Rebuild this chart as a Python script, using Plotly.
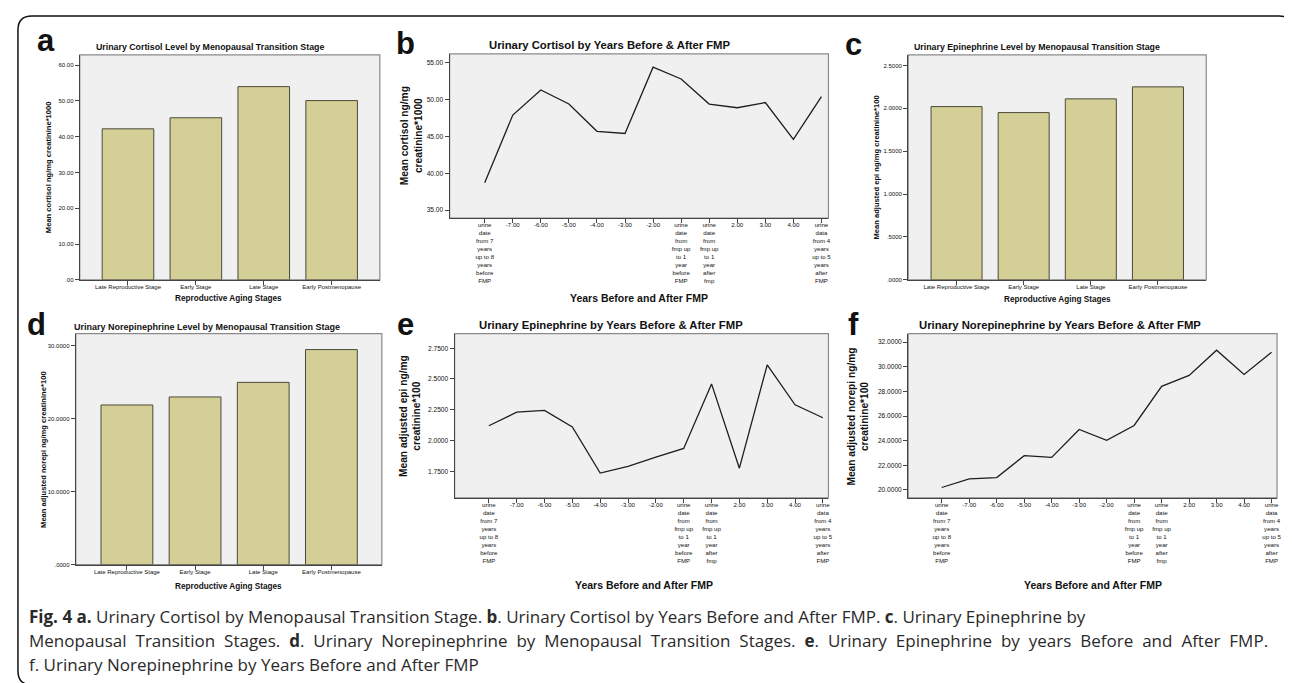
import plotly.graph_objects as go

W, H = 1292, 683

# ---------------- data ----------------
stages = ["Late Reproductive Stage", "Early Stage", "Late Stage", "Early Postmenopause"]
cortisol_stage = [42.2, 45.3, 54.0, 50.1]
epi_stage = [2.02, 1.95, 2.11, 2.25]
norepi_stage = [21.9, 23.0, 25.0, 29.5]

year_labels = [
    "urine<br>date<br>from 7<br>years<br>up to 8<br>years<br>before<br>FMP",
    "-7.00", "-6.00", "-5.00", "-4.00", "-3.00", "-2.00",
    "urine<br>date<br>from<br>fmp up<br>to 1<br>year<br>before<br>FMP",
    "urine<br>date<br>from<br>fmp up<br>to 1<br>year<br>after<br>fmp",
    "2.00", "3.00", "4.00",
    "urine<br>data<br>from 4<br>years<br>up to 5<br>years<br>after<br>FMP",
]
cortisol_years = [38.7, 47.9, 51.3, 49.4, 45.7, 45.4, 54.4, 52.8, 49.4, 48.9, 49.6, 44.6, 50.4]
epi_years = [2.12, 2.23, 2.245, 2.11, 1.735, 1.79, 1.865, 1.935, 2.46, 1.775, 2.615, 2.29, 2.185]
norepi_years = [20.19, 20.89, 21.0, 22.78, 22.64, 24.91, 24.02, 25.23, 28.41, 29.30, 31.35, 29.38, 31.19]

a_yticks = [0, 10, 20, 30, 40, 50, 60]
b_yticks = [35, 40, 45, 50, 55]
c_yticks = [0, 0.5, 1.0, 1.5, 2.0, 2.5]
d_yticks = [0, 10, 20, 30]
e_yticks = [1.75, 2.0, 2.25, 2.5, 2.75]
f_yticks = [20, 22, 24, 26, 28, 30, 32]


def spss(v, d):
    s = f"{v:.{d}f}"
    if s.startswith("0"):
        s = s[1:]
    return s


def px(x):
    return x / W


def py(y):
    return 1 - y / H


FONT = "Liberation Sans, Arial, sans-serif"
BAR_COLOR = "#D4CE97"
BG = "#F0F0F0"

fig = go.Figure()

panels = {
    "a": dict(n="", xd=(72, 373), yd=(47, 273), xr=[-0.71, 3.71], yr=[0, 62.9], yt=a_yticks, dec=2),
    "b": dict(n="2", xd=(443, 823), yd=(46, 211), xr=[-1.25, 12.25], yr=[33.92, 56.22], yt=b_yticks, dec=2),
    "c": dict(n="3", xd=(903, 1202), yd=(47, 273), xr=[-0.72, 3.72], yr=[0, 2.624], yt=c_yticks, dec=4),
    "d": dict(n="4", xd=(68, 375), yd=(327, 559), xr=[-0.75, 3.74], yr=[0, 31.7], yt=d_yticks, dec=4),
    "e": dict(n="5", xd=(448, 823), yd=(327, 492), xr=[-1.23, 12.2], yr=[1.534, 2.869], yt=e_yticks, dec=4),
    "f": dict(n="6", xd=(903, 1273), yd=(327, 492), xr=[-1.22, 12.2], yr=[19.35, 32.70], yt=f_yticks, dec=4),
}

bar_series = {"a": cortisol_stage, "c": epi_stage, "d": norepi_stage}
line_series = {"b": cortisol_years, "e": epi_years, "f": norepi_years}

for key, vals in bar_series.items():
    n = panels[key]["n"]
    fig.add_trace(go.Bar(
        x=stages, y=vals, width=0.76,
        marker=dict(color=BAR_COLOR, line=dict(color="#4a4a3a", width=1)),
        xaxis="x" + n, yaxis="y" + n, showlegend=False,
    ))

for key, vals in line_series.items():
    n = panels[key]["n"]
    fig.add_trace(go.Scatter(
        x=year_labels, y=vals, mode="lines",
        line=dict(color="#1e1e1e", width=1.3),
        xaxis="x" + n, yaxis="y" + n, showlegend=False,
    ))

layout = dict(
    width=W, height=H,
    margin=dict(l=0, r=0, t=0, b=0),
    paper_bgcolor="white",
    plot_bgcolor=BG,
    font=dict(family=FONT, color="#222"),
    showlegend=False,
)

shapes = []
for key, p in panels.items():
    n = p["n"]
    xa = "xaxis" + n
    ya = "yaxis" + n
    line_panel = key in ("b", "e", "f")
    layout[xa] = dict(
        domain=[px(p["xd"][0]), px(p["xd"][1])],
        anchor="y" + n, range=p["xr"], type="category",
        showline=True, linecolor="#444", linewidth=1.2,
        ticks="outside", ticklen=4, tickcolor="#444", tickwidth=1,
        showgrid=False, zeroline=False, tickangle=0,
        ticklabelstandoff=-3,
        tickfont=dict(size=6.1 if line_panel else 6, color="#111"),
        fixedrange=True,
    )
    layout[ya] = dict(
        domain=[py(p["yd"][1]), py(p["yd"][0])],
        anchor="x" + n, range=p["yr"],
        tickvals=p["yt"], ticktext=[spss(v, p["dec"]) for v in p["yt"]],
        showline=True, linecolor="#444", linewidth=1.2,
        ticks="outside", ticklen=4, tickcolor="#444", tickwidth=1,
        showgrid=False, zeroline=False,
        tickfont=dict(size=6.6 if line_panel else 6, color="#111"),
        fixedrange=True,
    )
    shapes.append(dict(
        type="rect", xref=("x" + n) + " domain", yref=("y" + n) + " domain",
        x0=0, x1=1, y0=0, y1=1, line=dict(color="#8a8a8a", width=1.2),
        layer="below",
    ))

# outer rounded frame
x0, x1, y0, y1, r = 10, 1289, 8, 680, 14
path = (f"M {px(x0 + r)},{py(y0)} L {px(x1 - r)},{py(y0)} "
        f"Q {px(x1)},{py(y0)} {px(x1)},{py(y0 + r)} "
        f"L {px(x1)},{py(y1 - r)} Q {px(x1)},{py(y1)} {px(x1 - r)},{py(y1)} "
        f"L {px(x0 + r)},{py(y1)} Q {px(x0)},{py(y1)} {px(x0)},{py(y1 - r)} "
        f"L {px(x0)},{py(y0 + r)} Q {px(x0)},{py(y0)} {px(x0 + r)},{py(y0)} Z")
shapes.append(dict(type="path", xref="paper", yref="paper", path=path,
                   line=dict(color="#111", width=1.5)))
layout["shapes"] = shapes

ann = []


def text(x, y, s, size, bold=True, angle=0, xanchor="center", family=FONT, color="#111"):
    ann.append(dict(
        x=px(x), y=py(y), xref="paper", yref="paper",
        text=f"<b>{s}</b>" if bold else s, showarrow=False,
        font=dict(size=size, family=family, color=color),
        textangle=angle, xanchor=xanchor, yanchor="middle",
    ))


# panel letters
for letter, (lx, ly) in {"a": (38, 33), "b": (399, 36), "c": (848, 37),
                          "d": (29, 318), "e": (399, 318), "f": (848, 318)}.items():
    text(lx, ly, letter, 31)

# chart titles
text(203, 39, "Urinary Cortisol Level by Menopausal Transition Stage", 8.8)
text(604, 37, "Urinary Cortisol by Years Before &amp; After FMP", 11.3)
text(1032, 39, "Urinary Epinephrine Level by Menopausal Transition Stage", 8.8)
text(200, 320, "Urinary Norepinephrine Level by Menopausal Transition Stage", 9.0)
text(605, 318, "Urinary Epinephrine by Years Before &amp; After FMP", 11.3)
text(1055, 318, "Urinary Norepinephrine by Years Before &amp; After FMP", 11.3)

# x-axis titles
text(221, 292, "Reproductive Aging Stages", 8.2)
text(1053, 293, "Reproductive Aging Stages", 8.2)
text(221, 581, "Reproductive Aging Stages", 8.2)
text(633, 291, "Years Before and After FMP", 10.5)
text(638, 580, "Years Before and After FMP", 10.5)
text(1088, 580, "Years Before and After FMP", 10.5)

# y-axis titles
text(40, 160, "Mean cortisol ng/mg creatinine*1000", 7.6, angle=-90)
text(871, 160, "Mean adjusted epi ng/mg creatinine*100", 7.6, angle=-90)
text(35, 443, "Mean adjusted norepi ng/mg creatinine*100", 7.6, angle=-90)
text(405, 128, "Mean cortisol ng/mg<br>creatinine*1000", 10.2, angle=-90)
text(403, 410, "Mean adjusted epi ng/mg<br>creatinine*100", 10.2, angle=-90)
text(853, 410, "Mean adjusted norepi ng/mg<br>creatinine*100", 10.2, angle=-90)

# caption (line 2 is justified in the original: widen its word gaps with thin + hair spaces)
CAP = "Open Sans, Noto Sans, sans-serif"
line2 = ("Menopausal Transition Stages. <b>d</b>. Urinary Norepinephrine by Menopausal Transition Stages. "
         "<b>e</b>. Urinary Epinephrine by years Before and After FMP.").replace(" ", " \u2009\u200a")
cap_lines = [
    "<b>Fig. 4 a.</b> Urinary Cortisol by Menopausal Transition Stage. <b>b</b>. Urinary Cortisol by Years Before and After FMP. <b>c</b>. Urinary Epinephrine by",
    line2,
    "f. Urinary Norepinephrine by Years Before and After FMP",
]
for i, line in enumerate(cap_lines):
    text(19, 611 + 24 * i, line, 17.0, bold=False, xanchor="left", family=CAP, color="#2a2a2a")

layout["annotations"] = ann
fig.update_layout(**layout)

fig.write_html("out.html")
